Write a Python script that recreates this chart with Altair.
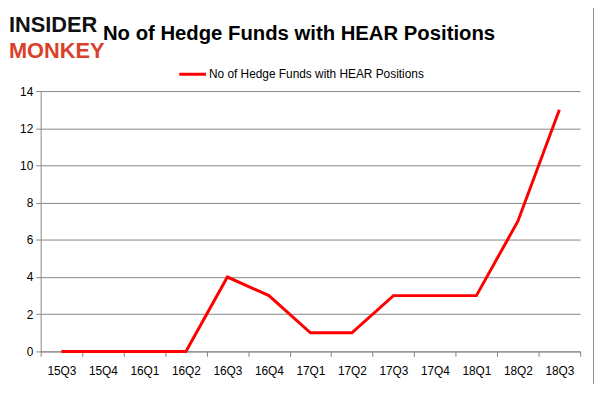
import altair as alt
import pandas as pd

quarters = ["15Q3", "15Q4", "16Q1", "16Q2", "16Q3", "16Q4", "17Q1", "17Q2",
            "17Q3", "17Q4", "18Q1", "18Q2", "18Q3"]
funds = [0, 0, 0, 0, 4, 3, 1, 1, 3, 3, 3, 7, 13]
series_name = "No of Hedge Funds with HEAR Positions"
title_text = "No of Hedge Funds with HEAR Positions"
y_ticks = [0, 2, 4, 6, 8, 10, 12, 14]

df = pd.DataFrame({"quarter": quarters, "value": funds})
one = pd.DataFrame({"k": [0]})

line = alt.Chart(df).mark_line(color="#ff0000", strokeWidth=3).encode(
    x=alt.X("quarter:N", sort=quarters, bandPosition=0.5,
            scale=alt.Scale(type="band", paddingInner=0, paddingOuter=0),
            axis=alt.Axis(title=None, labelAngle=0, tickBand="extent", grid=False,
                          tickSize=5, labelPadding=9)),
    y=alt.Y("value:Q", scale=alt.Scale(domain=[0, 14], nice=False),
            axis=alt.Axis(title=None, values=y_ticks, grid=True, tickSize=5,
                          labelPadding=3)),
)

title = alt.Chart(one).mark_text(text=title_text, font="Liberation Sans", fontWeight="bold",
                                 fontSize=20.5, align="center", baseline="alphabetic",
                                 color="#000000").encode(x=alt.value(261), y=alt.value(-52))

logo1 = alt.Chart(one).mark_text(text="INSIDER", font="Liberation Sans", fontWeight="bold",
                                 fontSize=22, align="left", baseline="alphabetic",
                                 color="#111111").encode(x=alt.value(-32), y=alt.value(-60))
logo2 = alt.Chart(one).mark_text(text="MONKEY", font="Liberation Sans", fontWeight="bold",
                                 fontSize=22, align="left", baseline="alphabetic",
                                 color="#d9412b").encode(x=alt.value(-32), y=alt.value(-33))

leg_line = alt.Chart(one).mark_rule(color="#ff0000", strokeWidth=3).encode(
    x=alt.value(140), x2=alt.value(167), y=alt.value(-17))
leg_text = alt.Chart(one).mark_text(text=series_name, font="Liberation Sans", fontSize=12,
                                    align="left", baseline="middle", color="#000000").encode(
    x=alt.value(170), y=alt.value(-17))

border = alt.Chart(one).mark_rule(color="#8c8c8c", strokeWidth=1).encode(
    x=alt.value(558.5), y=alt.value(-88), y2=alt.value(300))

chart = alt.layer(line, title, logo1, logo2, leg_line, leg_text, border).properties(
    width=545, height=263,
    autosize=alt.AutoSizeParams(type="none"),
    padding={"left": 33, "top": 82, "right": 14, "bottom": 31},
    background="#ffffff",
).configure_view(stroke=None).configure_axis(
    domainColor="#868686", tickColor="#868686", gridColor="#868686",
    labelFont="Liberation Sans", labelFontSize=12, labelColor="#000000",
)

chart.save("out.html", embed_options={"renderer": "svg", "actions": False})
